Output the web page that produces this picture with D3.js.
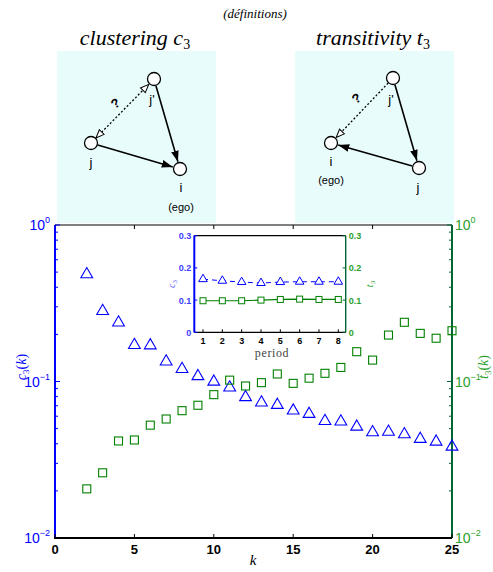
<!DOCTYPE html>
<html><head><meta charset="utf-8">
<script src="https://cdn.jsdelivr.net/npm/d3@7"></script>
<style>body{margin:0;background:#fff}svg{display:block}</style>
</head><body>
<svg id="c" width="493" height="572"></svg>
<script>
const kValues = [2,3,4,5,6,7,8,9,10,11,12,13,14,15,16,17,18,19,20,21,22,23,24,25];
const c3Values = [0.484,0.282,0.238,0.171,0.170,0.134,0.120,0.108,0.0997,0.0914,0.0793,0.0733,0.0708,0.0651,0.0620,0.0559,0.0554,0.0514,0.0473,0.0477,0.0460,0.0429,0.0412,0.0383];
const t3Values = [0.0206,0.0261,0.0417,0.0423,0.0526,0.0576,0.0651,0.0705,0.0824,0.102,0.0936,0.0983,0.1117,0.0973,0.105,0.1128,0.123,0.155,0.137,0.198,0.239,0.203,0.189,0.211];
const periods = [1,2,3,4,5,6,7,8];
const c3Period = [0.165,0.160,0.156,0.153,0.156,0.157,0.157,0.157];
const t3Period = [0.098,0.098,0.098,0.100,0.102,0.103,0.102,0.102];
const xTicks = [0,5,10,15,20,25];
const logTicks = [1,0.1,0.01];
const insetYTicks = [0,0.1,0.2,0.3];

const svg = d3.select("#c");
const blue = "#0000ff", green = "#008000", axGreen = "#006633";
const serif = "'Liberation Serif', 'DejaVu Serif', serif";
const sans = "'Liberation Sans', Arial, sans-serif";

// defs: arrowheads
const defs = svg.append("defs");
defs.append("marker").attr("id","fillArrow").attr("viewBox","0 0 10 10").attr("refX",10).attr("refY",5)
  .attr("markerWidth",11).attr("markerHeight",11).attr("markerUnits","userSpaceOnUse").attr("orient","auto")
  .append("path").attr("d","M0,1.5L10,5L0,8.5Z").attr("fill","#000");
defs.append("marker").attr("id","openArrow").attr("viewBox","-1 -1 12 12").attr("refX",10).attr("refY",5)
  .attr("markerWidth",10).attr("markerHeight",10).attr("markerUnits","userSpaceOnUse").attr("orient","auto-start-reverse")
  .append("path").attr("d","M0,1L10,5L0,9Z").attr("fill","#fff").attr("stroke","#000").attr("stroke-width",1.2);

// ---- top titles ----
svg.append("text").attr("x",255).attr("y",18).attr("text-anchor","middle")
  .attr("font-family",serif).attr("font-style","italic").attr("font-size",13).text("(définitions)");
function title(x, main, sym){
  const t = svg.append("text").attr("x",x).attr("y",45).attr("text-anchor","middle")
    .attr("font-family",serif).attr("font-style","italic").attr("font-size",22);
  t.append("tspan").text(main+" ");
  t.append("tspan").text(sym[0]);
  t.append("tspan").attr("font-size",14).attr("dy",4).attr("font-style","normal").text(sym[1]);
}
title(135,"clustering","c3");
title(373,"transitivity","t3");

// diagrams
function box(x0){
  svg.append("rect").attr("x",x0).attr("y",51).attr("width",159).attr("height",172).attr("fill","#e8fcfc");
}
box(57); box(295);
function shorten(a,b,ra,rb){
  const dx=b[0]-a[0], dy=b[1]-a[1], L=Math.hypot(dx,dy);
  return [a[0]+dx/L*ra, a[1]+dy/L*ra, b[0]-dx/L*rb, b[1]-dy/L*rb];
}
function edge(a,b,dashed,both){
  const s = shorten(a,b,7,7.5);
  const l = svg.append("line").attr("x1",s[0]).attr("y1",s[1]).attr("x2",s[2]).attr("y2",s[3])
    .attr("stroke","#000").attr("stroke-width",dashed?1.3:1.6);
  if(dashed){ l.attr("stroke-dasharray","2,2").attr("marker-end","url(#openArrow)"); if(both) l.attr("marker-start","url(#openArrow)"); }
  else l.attr("marker-end","url(#fillArrow)");
}
function node(p){
  svg.append("circle").attr("cx",p[0]).attr("cy",p[1]).attr("r",6.5).attr("fill","#fff").attr("stroke","#000").attr("stroke-width",1.3);
}
function lab(x,y,t,fs){
  svg.append("text").attr("x",x).attr("y",y).attr("text-anchor","middle").attr("font-family",sans).attr("font-size",fs||13).text(t);
}
function qmark(x,y){
  svg.append("text").attr("transform",`translate(${x},${y}) rotate(-35)`).attr("text-anchor","middle")
    .attr("font-family",sans).attr("font-weight","bold").attr("font-size",13).text("?");
}
// clustering
{
  const jp=[154,79], j=[91,143], i=[180,169];
  edge(j,i,false); edge(jp,i,false); edge(j,jp,true,true);
  [jp,j,i].forEach(node);
  lab(152,104,"j'"); lab(91,167,"j"); lab(181,192,"i"); lab(181,211,"(ego)",11);
  qmark(118,107);
}
// transitivity
{
  const jp=[393,78], i=[331,143], j=[419,168];
  edge(jp,j,false); edge(j,i,false); edge(jp,i,true,false);
  [jp,i,j].forEach(node);
  lab(391,104,"j'"); lab(331,166,"i"); lab(331,184,"(ego)",11); lab(418,192,"j");
  qmark(359,102);
}

// ---- main plot ----
const L=55, R=452, T=225, B=538;
const x = d3.scaleLinear().domain([0,25]).range([L,R]);
const y = d3.scaleLog().domain([0.01,1]).range([B,T]);

// top frame
svg.append("line").attr("x1",L).attr("x2",R).attr("y1",T).attr("y2",T).attr("stroke","#000").attr("stroke-width",1);
xTicks.forEach(v=>{ svg.append("line").attr("x1",x(v)).attr("x2",x(v)).attr("y1",T).attr("y2",T+4).attr("stroke","#000"); });

// minor tick values
const minor = [];
[0.01,0.1].forEach(d=>{ for(let m=2;m<=9;m++) minor.push(d*m); });

// left axis
const gl = svg.append("g").attr("transform",`translate(${L},0)`);
gl.append("line").attr("y1",T).attr("y2",B).attr("stroke",blue).attr("stroke-width",2);
minor.forEach(v=>gl.append("line").attr("x1",0).attr("x2",3).attr("y1",y(v)).attr("y2",y(v)).attr("stroke",blue));
logTicks.forEach(v=>{
  gl.append("line").attr("x1",0).attr("x2",5).attr("y1",y(v)).attr("y2",y(v)).attr("stroke",blue);
  const e = Math.round(Math.log10(v));
  const t = gl.append("text").attr("x",-5).attr("y",y(v)+5).attr("text-anchor","end").attr("fill",blue)
    .attr("font-family",sans).attr("font-size",14);
  t.append("tspan").text("10");
  t.append("tspan").attr("dy",-7).attr("font-size",9).text(e===0?"0":"\u2212"+(-e));
});
// right axis
const gr = svg.append("g").attr("transform",`translate(${R},0)`);
gr.append("line").attr("y1",T).attr("y2",B).attr("stroke",axGreen).attr("stroke-width",2);
minor.forEach(v=>gr.append("line").attr("x1",0).attr("x2",-3).attr("y1",y(v)).attr("y2",y(v)).attr("stroke",axGreen));
logTicks.forEach(v=>{
  gr.append("line").attr("x1",0).attr("x2",-5).attr("y1",y(v)).attr("y2",y(v)).attr("stroke",axGreen);
  const e = Math.round(Math.log10(v));
  const t = gr.append("text").attr("x",3).attr("y",y(v)+5).attr("text-anchor","start").attr("fill","#2ca02c")
    .attr("font-family",sans).attr("font-size",14);
  t.append("tspan").text("10");
  t.append("tspan").attr("dy",-7).attr("font-size",9).text(e===0?"0":"\u2212"+(-e));
});
// bottom axis
svg.append("line").attr("x1",L-1).attr("x2",R).attr("y1",B).attr("y2",B).attr("stroke","#000").attr("stroke-width",2);
xTicks.forEach(v=>{
  svg.append("line").attr("x1",x(v)).attr("x2",x(v)).attr("y1",B).attr("y2",B-4).attr("stroke","#000");
  svg.append("text").attr("x",x(v)).attr("y",B+16).attr("text-anchor","middle").attr("font-family",sans)
    .attr("font-weight","bold").attr("font-size",13).text(v);
});
svg.append("text").attr("x",253).attr("y",565).attr("text-anchor","middle").attr("font-family",serif)
  .attr("font-style","italic").attr("font-size",15).text("k");

// axis labels
function ylab(xp,yp,sym,col){
  const t = svg.append("text").attr("transform",`translate(${xp},${yp}) rotate(-90)`).attr("text-anchor","middle")
    .attr("fill",col).attr("font-family",serif).attr("font-size",14);
  t.append("tspan").attr("font-style","italic").text(sym[0]);
  t.append("tspan").attr("font-size",9).attr("dy",3).text(sym[1]);
  t.append("tspan").attr("dy",-3).text("(");
  t.append("tspan").attr("font-style","italic").text("k");
  t.append("tspan").text(")");
}
ylab(26,367,"c3",blue);
ylab(488,367,"t3","#2ca02c");

// markers
const tri = d3.symbol().type(d3.symbolTriangle).size(60);
svg.append("g").selectAll("path").data(kValues).join("path")
  .attr("transform",(d,i)=>`translate(${x(d)},${y(c3Values[i])})`).attr("d",tri)
  .attr("fill","none").attr("stroke",blue).attr("stroke-width",1.1);
svg.append("g").selectAll("rect").data(kValues).join("rect")
  .attr("x",(d)=>x(d)-4).attr("y",(d,i)=>y(t3Values[i])-4).attr("width",8).attr("height",8)
  .attr("fill","none").attr("stroke",green).attr("stroke-width",1.1);

// ---- inset ----
const iL=194.3, iR=345.7, iT=235.7, iB=332.3;
const ix = d3.scaleLinear().domain([1,8]).range([203,338.3]);
const iy = d3.scaleLinear().domain([0,0.3]).range([iB,iT]);
svg.append("rect").attr("x",iL).attr("y",iT).attr("width",iR-iL).attr("height",iB-iT).attr("fill","#fff");
svg.append("line").attr("x1",iL).attr("x2",iR).attr("y1",iT).attr("y2",iT).attr("stroke","#000").attr("stroke-width",1.2);
svg.append("line").attr("x1",iL).attr("x2",iR).attr("y1",iB).attr("y2",iB).attr("stroke","#000").attr("stroke-width",1.2);
svg.append("line").attr("x1",iL).attr("x2",iL).attr("y1",iT).attr("y2",iB).attr("stroke",blue).attr("stroke-width",2);
svg.append("line").attr("x1",iR).attr("x2",iR).attr("y1",iT).attr("y2",iB).attr("stroke",axGreen).attr("stroke-width",1.4);
insetYTicks.forEach(v=>{
  svg.append("line").attr("x1",iL).attr("x2",iL+3).attr("y1",iy(v)).attr("y2",iy(v)).attr("stroke",blue);
  svg.append("line").attr("x1",iR).attr("x2",iR-3).attr("y1",iy(v)).attr("y2",iy(v)).attr("stroke",axGreen);
  svg.append("text").attr("x",iL-3).attr("y",iy(v)+3.5).attr("text-anchor","end").attr("fill","#4040ff")
    .attr("font-family",sans).attr("font-weight","bold").attr("font-size",9).text(v===0?"0":v.toFixed(1));
  svg.append("text").attr("x",iR+3).attr("y",iy(v)+3.5).attr("text-anchor","start").attr("fill","#2ca02c")
    .attr("font-family",sans).attr("font-weight","bold").attr("font-size",9).text(v===0?"0":v.toFixed(1));
});
periods.forEach(p=>{
  svg.append("line").attr("x1",ix(p)).attr("x2",ix(p)).attr("y1",iB).attr("y2",iB-3).attr("stroke","#000");
  svg.append("text").attr("x",ix(p)).attr("y",iB+12).attr("text-anchor","middle").attr("font-family",sans)
    .attr("font-weight","bold").attr("font-size",9).text(p);
});
svg.append("text").attr("x",272).attr("y",357).attr("text-anchor","middle").attr("font-family",serif)
  .attr("font-size",12).attr("fill","#444").attr("letter-spacing",0.6).text("period");
function iylab(xp,yp,sym,col){
  const t = svg.append("text").attr("transform",`translate(${xp},${yp}) rotate(-90)`).attr("text-anchor","middle")
    .attr("fill",col).attr("font-family",serif).attr("font-size",10);
  t.append("tspan").attr("font-style","italic").text(sym[0]);
  t.append("tspan").attr("font-size",7).attr("dy",2).text(sym[1]);
}
iylab(175,284,"c3","#6060ff");
iylab(373,284,"t3","#2ca02c");
const line = d3.line().x((d,i)=>ix(periods[i])).y(d=>iy(d));
svg.append("path").attr("d",line(c3Period)).attr("fill","none").attr("stroke",blue).attr("stroke-width",1).attr("stroke-dasharray","5,4");
svg.append("path").attr("d",line(t3Period)).attr("fill","none").attr("stroke",green).attr("stroke-width",1.2);
const tri2 = d3.symbol().type(d3.symbolTriangle).size(32);
svg.append("g").selectAll("path").data(periods).join("path")
  .attr("transform",(d,i)=>`translate(${ix(d)},${iy(c3Period[i])})`).attr("d",tri2)
  .attr("fill","#fff").attr("stroke",blue).attr("stroke-width",1);
svg.append("g").selectAll("rect").data(periods).join("rect")
  .attr("x",d=>ix(d)-3).attr("y",(d,i)=>iy(t3Period[i])-3).attr("width",6).attr("height",6)
  .attr("fill","#fff").attr("stroke",green).attr("stroke-width",1);
</script>
</body></html>
